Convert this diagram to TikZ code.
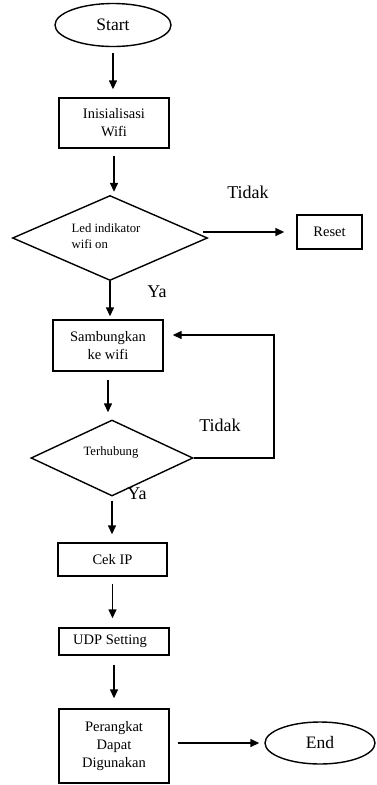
\documentclass[tikz,border=0pt]{standalone}
\usepackage{fontspec}
\setmainfont{Liberation Serif}
\usetikzlibrary{shapes.geometric,arrows.meta}
\begin{document}
\begin{tikzpicture}[x=1pt,y=-1pt,
  line width=1.4pt,
  proc/.style={draw, rectangle, inner sep=0pt, align=center, font=\fontsize{14.5}{18}\selectfont},
  term/.style={draw, ellipse, inner sep=0pt, font=\fontsize{17.5}{20}\selectfont},
  dec/.style={draw, diamond, inner sep=0pt, align=left, font=\fontsize{12.7}{16}\selectfont},
  lbl/.style={font=\fontsize{18}{20}\selectfont, inner sep=0pt},
  arr/.style={-{Triangle[length=9pt,width=8pt]}, line width=1.4pt}]
\useasboundingbox (0,0) rectangle (376,785);
\node[term, minimum width=116pt, minimum height=43pt] (start) at (113,25) {Start};
\node[proc, minimum width=110pt, minimum height=50pt] (init) at (114,123) {Inisialisasi\\Wifi};
\node[dec, minimum width=195pt, minimum height=85pt] (d1) at (110,238) {};
\node[align=left, font=\fontsize{12.7}{16}\selectfont, inner sep=0pt] (d1t) at (106,236) {Led indikator\\wifi on};
\node[proc, minimum width=65pt, minimum height=34pt] (reset) at (329.5,232) {Reset};
\node[proc, minimum width=110pt, minimum height=51pt] (samb) at (108,345.5) {Sambungkan\\ke wifi};
\node[dec, minimum width=162pt, minimum height=76pt] (d2) at (112,458) {};
\node[font=\fontsize{12.7}{16}\selectfont, inner sep=0pt] (d2t) at (111,452) {Terhubung};
\node[proc, minimum width=109pt, minimum height=33pt] (cek) at (112.5,559.5) {Cek IP};
\node[proc, minimum width=110pt, minimum height=27pt] (udp) at (114,641.5) {UDP Setting\hspace{8pt}};
\node[proc, minimum width=110pt, minimum height=74pt] (per) at (114,746) {Perangkat\\Dapat\\Digunakan};
\node[term, minimum width=110pt, minimum height=42pt] (end) at (320,743) {End};
\node[lbl] (t1) at (248,192) {Tidak};
\node[lbl] (y1) at (157,292) {Ya};
\node[lbl] (t2) at (220,425) {Tidak};
\node[lbl] (y2) at (137,494) {Ya};
\coordinate (loopc) at (274,335);
\draw[arr, shorten <=6pt, shorten >=8pt] (start.south) -- (start.south |- init.north);
\draw[arr, shorten <=7pt, shorten >=3pt] (init.south) -- (init.south |- d1.north);
\draw[arr, shorten >=3pt] (d1.south) -- (d1.south |- samb.north);
\draw[arr, shorten <=8pt, shorten >=7pt] (samb.south) -- (samb.south |- d2.north);
\draw[arr, shorten <=4pt, shorten >=8pt] (d2.south) -- (d2.south |- cek.north);
\draw[arr, shorten <=7pt, shorten >=9pt] (cek.south) -- (cek.south |- udp.north);
\draw[arr, shorten <=9pt, shorten >=10pt] (udp.south) -- (udp.south |- per.north);
\draw[arr, shorten <=8pt, shorten >=5pt] (per.east |- end) -- (end.west);
\draw[arr, shorten >=12pt] ([xshift=-5pt]d1.east |- reset) -- (reset.west);
\draw[arr] (d2.east) -| (loopc) -- ([xshift=9pt]samb.east |- loopc);
\end{tikzpicture}
\end{document}
